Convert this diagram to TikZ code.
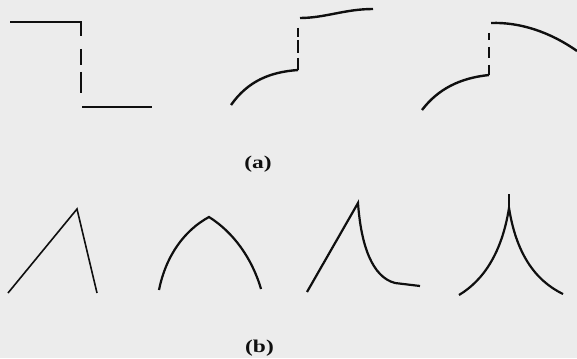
\documentclass[tikz,border=0pt]{standalone}
\usepackage{fontspec}
\usepackage{graphicx}
\setmainfont{Liberation Serif}
\definecolor{paper}{RGB}{236,236,236}
\definecolor{ink}{RGB}{15,15,15}
\begin{document}
\begin{tikzpicture}[x=1pt,y=-1pt,
  edgeA/.style={draw=ink,line width=2.4pt},
  edgeB/.style={draw=ink,line width=2.2pt},
  edgeThin/.style={draw=ink,line width=1.6pt},
  caption/.style={font=\fontsize{18}{21}\selectfont\bfseries,text=ink,inner sep=0pt}]
\fill[paper] (0,0) rectangle (577,358);
\useasboundingbox (0,0) rectangle (577,358);
% ---------- (a) first: step edge ----------
\draw[edgeA] (10,22) -- (81,22) -- (81,36);
\draw[edgeA] (81,49) -- (81,65);
\draw[edgeA] (81,72) -- (81,93);
\draw[edgeA] (82,107) -- (152,107);
% ---------- (a) second ----------
\draw[edgeA] (300,18) .. controls (325,18) and (345,9) .. (373,9);
\draw[edgeA] (298,28) -- (298,37);
\draw[edgeA] (298,40) -- (298,53);
\draw[edgeA] (298,58) -- (298,70);
\draw[edgeA] (231,105) .. controls (248,81) and (270,72) .. (298,70);
% ---------- (a) third ----------
\draw[edgeA] (491,23) .. controls (520,22) and (550,32) .. (577,51);
\draw[edgeA] (489,33) -- (489,40);
\draw[edgeA] (489,47) -- (489,58);
\draw[edgeA] (489,65) -- (489,75);
\draw[edgeA] (422,110) .. controls (438,89) and (460,78) .. (489,75);
\node[caption] (capa) at (258,164) {\scalebox{1.3}[1]{(a)}};
% ---------- (b) first: straight roof ----------
\draw[edgeThin] (8,293) -- (77,209) -- (97,293);
% ---------- (b) second: arch ----------
\draw[edgeB] (159,290) .. controls (166,255) and (185,230) .. (209,217)
  .. controls (233,232) and (252,258) .. (261,289);
% ---------- (b) third ----------
\draw[edgeB] (307,292) -- (358,203) .. controls (361,245) and (372,277) .. (395,283) -- (420,286);
% ---------- (b) fourth: cusp ----------
\draw[edgeB] (459,295) .. controls (484,280) and (502,252) .. (509,208)
  .. controls (516,252) and (534,280) .. (563,294);
\draw[edgeB] (509,208) -- (509,194);
\node[caption] (capb) at (259.5,348) {\scalebox{1.3}[1]{(b)}};
\end{tikzpicture}
\end{document}
